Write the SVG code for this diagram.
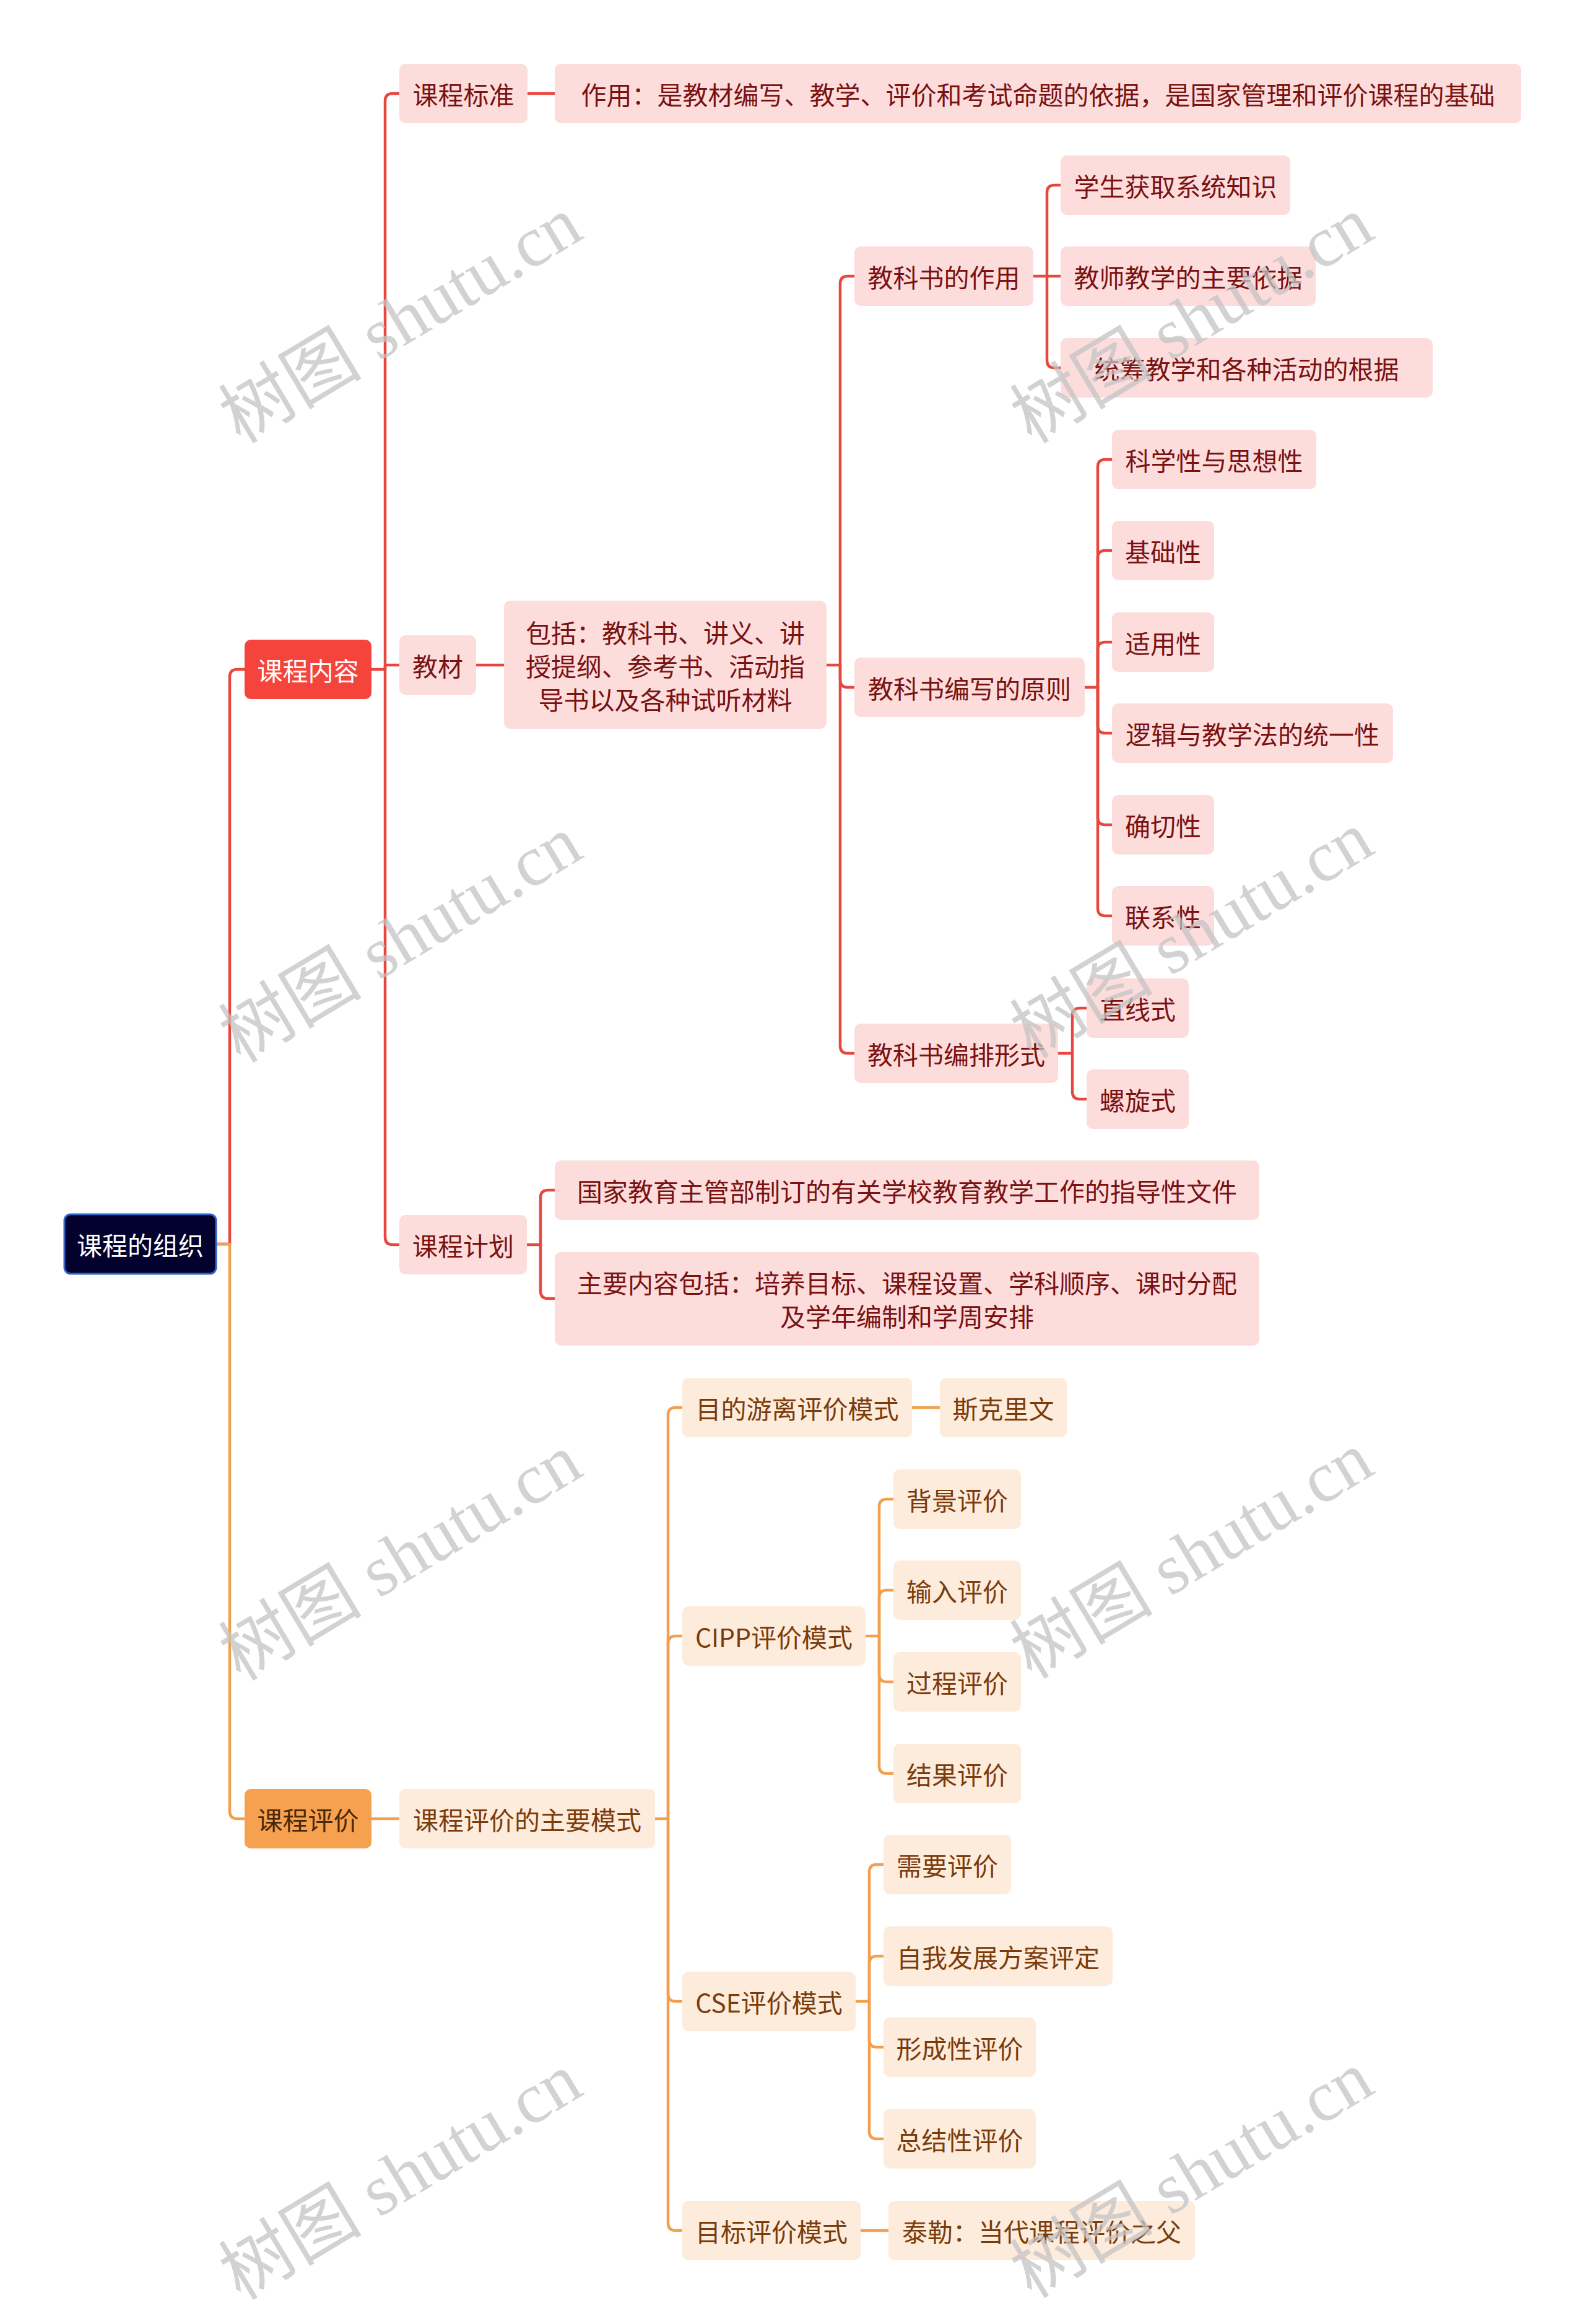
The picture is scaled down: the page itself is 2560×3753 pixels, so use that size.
<svg xmlns="http://www.w3.org/2000/svg" width="2560" height="3753" viewBox="0 0 2560 3753">
<style>
.lr{fill:none;stroke:#e8473f;stroke-width:4.5;stroke-linecap:round;stroke-linejoin:round}
.lo{fill:none;stroke:#f2a04f;stroke-width:4.5;stroke-linecap:round;stroke-linejoin:round}
text{font-family:"Noto Sans CJK SC","Noto Sans",sans-serif;font-size:41px;text-anchor:middle;dominant-baseline:central}
.pk rect{fill:#fddcdc}
.pk text{fill:#7a1212}
.or rect{fill:#fdebdc}
.or text{fill:#7b3c0c}
.wm{font-family:"Liberation Serif","Noto Sans CJK SC",serif;font-size:116px;fill:#c4c4c4;opacity:.75}
</style>
<rect width="2560" height="3753" fill="#ffffff"/>
<g id="connectors">
<path class="lr" d="M349 2009 H371 V1093 Q371 1081 383 1081 H395"/>
<path class="lo" d="M349 2009 H371 V2925 Q371 2937 383 2937 H395"/>
<path class="lr" d="M600 1081 H622"/>
<path class="lr" d="M622 1081 V163 Q622 151 634 151 H645"/>
<path class="lr" d="M622 1081 V1074 H645"/>
<path class="lr" d="M622 1081 V1998 Q622 2010 634 2010 H645"/>
<path class="lr" d="M852 151 H896"/>
<path class="lr" d="M769 1074 H814"/>
<path class="lr" d="M1335 1074 H1357"/>
<path class="lr" d="M1357 1074 V458 Q1357 446 1369 446 H1380"/>
<path class="lr" d="M1357 1074 V1098 Q1357 1110 1369 1110 H1380"/>
<path class="lr" d="M1357 1074 V1689 Q1357 1701 1369 1701 H1380"/>
<path class="lr" d="M1669 446 H1691"/>
<path class="lr" d="M1691 446 V311 Q1691 299 1703 299 H1713"/>
<path class="lr" d="M1691 446 H1713"/>
<path class="lr" d="M1691 446 V582 Q1691 594 1703 594 H1713"/>
<path class="lr" d="M1752 1110 H1773"/>
<path class="lr" d="M1773 1110 V754 Q1773 742 1785 742 H1796"/>
<path class="lr" d="M1773 1110 V901 Q1773 889 1785 889 H1796"/>
<path class="lr" d="M1773 1110 V1049 Q1773 1037 1785 1037 H1796"/>
<path class="lr" d="M1773 1110 V1172 Q1773 1184 1785 1184 H1796"/>
<path class="lr" d="M1773 1110 V1320 Q1773 1332 1785 1332 H1796"/>
<path class="lr" d="M1773 1110 V1467 Q1773 1479 1785 1479 H1796"/>
<path class="lr" d="M1709 1701 H1732"/>
<path class="lr" d="M1732 1701 V1640 Q1732 1628 1744 1628 H1755"/>
<path class="lr" d="M1732 1701 V1763 Q1732 1775 1744 1775 H1755"/>
<path class="lr" d="M851 2010 H873"/>
<path class="lr" d="M873 2010 V1934 Q873 1922 885 1922 H896"/>
<path class="lr" d="M873 2010 V2085 Q873 2097 885 2097 H896"/>
<path class="lo" d="M600 2937 H645"/>
<path class="lo" d="M1058 2937 H1079"/>
<path class="lo" d="M1079 2937 V2285 Q1079 2273 1091 2273 H1102"/>
<path class="lo" d="M1079 2937 V2654 Q1079 2642 1091 2642 H1102"/>
<path class="lo" d="M1079 2937 V3220 Q1079 3232 1091 3232 H1102"/>
<path class="lo" d="M1079 2937 V3590 Q1079 3602 1091 3602 H1102"/>
<path class="lo" d="M1473 2273 H1518"/>
<path class="lo" d="M1398 2642 H1420"/>
<path class="lo" d="M1420 2642 V2433 Q1420 2421 1432 2421 H1443"/>
<path class="lo" d="M1420 2642 V2580 Q1420 2568 1432 2568 H1443"/>
<path class="lo" d="M1420 2642 V2704 Q1420 2716 1432 2716 H1443"/>
<path class="lo" d="M1420 2642 V2852 Q1420 2864 1432 2864 H1443"/>
<path class="lo" d="M1382 3232 H1404"/>
<path class="lo" d="M1404 3232 V3023 Q1404 3011 1416 3011 H1427"/>
<path class="lo" d="M1404 3232 V3171 Q1404 3159 1416 3159 H1427"/>
<path class="lo" d="M1404 3232 V3294 Q1404 3306 1416 3306 H1427"/>
<path class="lo" d="M1404 3232 V3442 Q1404 3454 1416 3454 H1427"/>
<path class="lo" d="M1390 3602 H1435"/>
</g>
<g id="root"><rect x="104" y="1961" width="245" height="96" rx="10" fill="#03022e" stroke="#2f64c8" stroke-width="3"/><text x="226.5" y="2009" fill="#ffffff">课程的组织</text></g>
<g id="n-kcnr"><rect x="395" y="1033" width="205" height="96" rx="10" fill="#f5443b"/><text x="497.5" y="1081" fill="#ffffff">课程内容</text></g>
<g id="n-kcpj"><rect x="395" y="2889" width="205" height="96" rx="10" fill="#f5a14f"/><text x="497.5" y="2937" fill="#4a2808">课程评价</text></g>
<g class="pk">
<g id="n-kcbz"><rect x="645" y="103" width="207" height="96" rx="10"/><text x="748.5" y="151">课程标准</text></g>
<g id="n-zy"><rect x="896" y="103" width="1561" height="96" rx="10"/><text x="1676.5" y="151">作用：是教材编写、教学、评价和考试命题的依据，是国家管理和评价课程的基础</text></g>
<g id="n-jc"><rect x="645" y="1026" width="124" height="96" rx="10"/><text x="707" y="1074">教材</text></g>
<g id="n-bk"><rect x="814" y="970" width="521" height="207" rx="10"/><text x="1074.5"><tspan x="1074.5" y="1020">包括：教科书、讲义、讲</tspan><tspan x="1074.5" y="1074">授提纲、参考书、活动指</tspan><tspan x="1074.5" y="1128">导书以及各种试听材料</tspan></text></g>
<g id="n-zyong"><rect x="1380" y="398" width="289" height="96" rx="10"/><text x="1524.5" y="446">教科书的作用</text></g>
<g id="n-xs"><rect x="1713" y="251" width="371" height="96" rx="10"/><text x="1898.5" y="299">学生获取系统知识</text></g>
<g id="n-js"><rect x="1713" y="398" width="412" height="96" rx="10"/><text x="1919" y="446">教师教学的主要依据</text></g>
<g id="n-tc"><rect x="1713" y="546" width="601" height="96" rx="10"/><text x="2013.5" y="594">统筹教学和各种活动的根据</text></g>
<g id="n-yz"><rect x="1380" y="1062" width="372" height="96" rx="10"/><text x="1566" y="1110">教科书编写的原则</text></g>
<g id="n-kx"><rect x="1796" y="694" width="330" height="96" rx="10"/><text x="1961" y="742">科学性与思想性</text></g>
<g id="n-jcx"><rect x="1796" y="841" width="165" height="96" rx="10"/><text x="1878.5" y="889">基础性</text></g>
<g id="n-sy"><rect x="1796" y="989" width="165" height="96" rx="10"/><text x="1878.5" y="1037">适用性</text></g>
<g id="n-lj"><rect x="1796" y="1136" width="454" height="96" rx="10"/><text x="2023" y="1184">逻辑与教学法的统一性</text></g>
<g id="n-qq"><rect x="1796" y="1284" width="165" height="96" rx="10"/><text x="1878.5" y="1332">确切性</text></g>
<g id="n-lx"><rect x="1796" y="1431" width="165" height="96" rx="10"/><text x="1878.5" y="1479">联系性</text></g>
<g id="n-bp"><rect x="1380" y="1653" width="329" height="96" rx="10"/><text x="1544.5" y="1701">教科书编排形式</text></g>
<g id="n-zx"><rect x="1755" y="1580" width="165" height="96" rx="10"/><text x="1837.5" y="1628">直线式</text></g>
<g id="n-lxs"><rect x="1755" y="1727" width="165" height="96" rx="10"/><text x="1837.5" y="1775">螺旋式</text></g>
<g id="n-kcjh"><rect x="645" y="1962" width="206" height="96" rx="10"/><text x="748" y="2010">课程计划</text></g>
<g id="n-gj"><rect x="896" y="1874" width="1138" height="96" rx="10"/><text x="1465" y="1922">国家教育主管部制订的有关学校教育教学工作的指导性文件</text></g>
<g id="n-zynr"><rect x="896" y="2022" width="1138" height="151" rx="10"/><text x="1465"><tspan x="1465" y="2070">主要内容包括：培养目标、课程设置、学科顺序、课时分配</tspan><tspan x="1465" y="2124">及学年编制和学周安排</tspan></text></g>
</g>
<g class="or">
<g id="n-zyms"><rect x="645" y="2889" width="413" height="96" rx="10"/><text x="851.5" y="2937">课程评价的主要模式</text></g>
<g id="n-mdyl"><rect x="1102" y="2225" width="371" height="96" rx="10"/><text x="1287.5" y="2273">目的游离评价模式</text></g>
<g id="n-skl"><rect x="1518" y="2225" width="205" height="96" rx="10"/><text x="1620.5" y="2273">斯克里文</text></g>
<g id="n-cipp"><rect x="1102" y="2594" width="296" height="96" rx="10"/><text x="1250" y="2642">CIPP评价模式</text></g>
<g id="n-bj"><rect x="1443" y="2373" width="206" height="96" rx="10"/><text x="1546" y="2421">背景评价</text></g>
<g id="n-sr"><rect x="1443" y="2520" width="206" height="96" rx="10"/><text x="1546" y="2568">输入评价</text></g>
<g id="n-gc"><rect x="1443" y="2668" width="206" height="96" rx="10"/><text x="1546" y="2716">过程评价</text></g>
<g id="n-jg"><rect x="1443" y="2816" width="206" height="96" rx="10"/><text x="1546" y="2864">结果评价</text></g>
<g id="n-cse"><rect x="1102" y="3184" width="280" height="96" rx="10"/><text x="1242" y="3232">CSE评价模式</text></g>
<g id="n-xy"><rect x="1427" y="2963" width="206" height="96" rx="10"/><text x="1530" y="3011">需要评价</text></g>
<g id="n-zw"><rect x="1427" y="3111" width="370" height="96" rx="10"/><text x="1612" y="3159">自我发展方案评定</text></g>
<g id="n-xc"><rect x="1427" y="3258" width="246" height="96" rx="10"/><text x="1550" y="3306">形成性评价</text></g>
<g id="n-zj"><rect x="1427" y="3406" width="246" height="96" rx="10"/><text x="1550" y="3454">总结性评价</text></g>
<g id="n-mb"><rect x="1102" y="3554" width="288" height="96" rx="10"/><text x="1246" y="3602">目标评价模式</text></g>
<g id="n-tl"><rect x="1435" y="3554" width="495" height="96" rx="10"/><text x="1682.5" y="3602">泰勒：当代课程评价之父</text></g>
</g>
<g id="watermarks">
<text class="wm" transform="translate(647,517) rotate(-31)">树图 shutu.cn</text>
<text class="wm" transform="translate(647,1517) rotate(-31)">树图 shutu.cn</text>
<text class="wm" transform="translate(647,2515) rotate(-31)">树图 shutu.cn</text>
<text class="wm" transform="translate(647,3515) rotate(-31)">树图 shutu.cn</text>
<text class="wm" transform="translate(1925,517) rotate(-31)">树图 shutu.cn</text>
<text class="wm" transform="translate(1925,1510) rotate(-31)">树图 shutu.cn</text>
<text class="wm" transform="translate(1925,2512) rotate(-31)">树图 shutu.cn</text>
<text class="wm" transform="translate(1925,3512) rotate(-31)">树图 shutu.cn</text>
</g>
</svg>
